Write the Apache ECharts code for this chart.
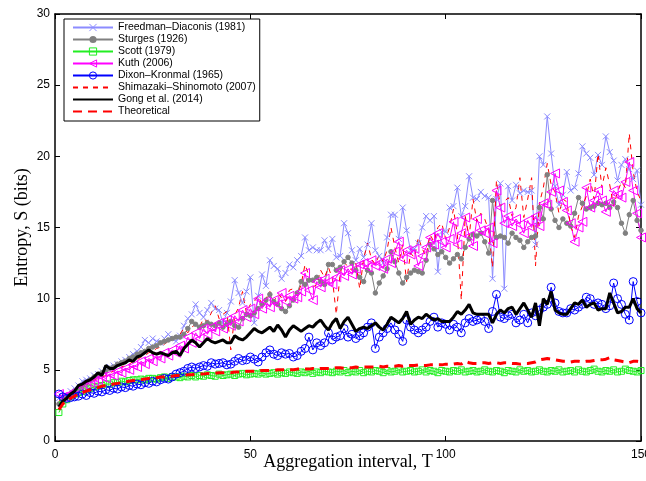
<!DOCTYPE html>
<html>
<head>
<meta charset="utf-8">
<script src="https://cdn.jsdelivr.net/npm/echarts@6/dist/echarts.min.js"></script>
<style>
  html, body { margin: 0; padding: 0; background: #fff; }
  #chart { width: 646px; height: 481px; }
</style>
</head>
<body>
<div id="chart"></div>
<script>
// Aggregation intervals T = 1..150
const T = Array.from({ length: 150 }, (_, i) => i + 1);

const xTicks = [0, 50, 100, 150];
const yTicks = [0, 5, 10, 15, 20, 25, 30];

// Entropy estimates (bits) per aggregation interval, for each binning rule
const freedmanDiaconis = [
  3.0, 3.1, 3.2, 3.5, 3.7, 3.9, 4.2, 4.3, 4.4, 4.6,
  4.7, 4.9, 5.0, 5.2, 5.3, 5.4, 5.6, 5.7, 5.9, 6.1,
  6.3, 6.6, 7.1, 6.9, 7.2, 7.0, 6.9, 7.2, 7.5, 7.2,
  7.0, 7.4, 8.1, 8.6, 8.9, 9.6, 9.0, 8.7, 9.2, 9.7,
  9.3, 9.2, 8.3, 9.0, 9.8, 11.3, 10.4, 9.7, 10.5, 11.5,
  8.3, 10.2, 11.7, 10.9, 12.7, 12.3, 12.1, 11.4, 11.8, 12.4,
  12.2, 12.7, 13.0, 14.3, 13.4, 13.6, 13.4, 13.4, 14.1, 13.5,
  14.2, 12.9, 13.0, 15.3, 14.6, 13.4, 12.7, 13.5, 12.9, 13.8,
  15.3, 13.4, 13.0, 12.5, 14.3, 15.9, 15.9, 14.2, 16.4, 14.8,
  13.4, 13.5, 13.9, 15.0, 15.8, 15.5, 15.8, 11.9, 14.7, 14.7,
  16.4, 16.5, 17.8, 15.8, 16.5, 18.6, 17.1, 17.0, 17.5, 17.2,
  17.1, 11.4, 17.0, 18.1, 10.7, 17.9, 16.9, 18.0, 17.4, 17.6,
  17.5, 17.6, 13.8, 20.0, 19.4, 22.8, 20.2, 17.9, 16.6, 17.3,
  18.9, 17.6, 17.8, 18.8, 20.7, 20.2, 19.9, 18.7, 20.1, 19.4,
  21.4, 20.3, 19.7, 18.3, 19.4, 19.8, 19.1, 18.4, 19.0, 16.6
];

const sturges = [
  2.6, 2.9, 3.1, 3.3, 3.5, 3.7, 3.9, 4.1, 4.3, 4.5,
  4.6, 4.8, 4.9, 5.1, 5.2, 5.4, 5.5, 5.6, 5.8, 5.9,
  6.1, 6.2, 6.3, 6.5, 6.6, 6.7, 6.9, 7.0, 7.1, 7.2,
  7.3, 7.3, 7.5, 7.9, 8.4, 8.2, 8.0, 8.1, 8.3, 8.2,
  8.1, 8.3, 8.0, 8.2, 8.4, 8.1, 8.0, 8.6, 8.9, 8.8,
  9.0, 9.3, 9.6, 9.9, 10.3, 9.8, 9.6, 9.3, 9.1, 9.5,
  9.9, 10.4, 11.2, 11.0, 11.3, 11.3, 11.5, 11.2, 11.0, 12.4,
  12.4, 12.0, 12.2, 12.6, 12.9, 12.5, 12.0, 11.5, 11.2, 12.0,
  11.8, 10.4, 11.1, 11.6, 12.1, 13.3, 12.6, 11.8, 11.1, 11.5,
  11.8, 12.0, 11.9, 11.8, 12.7, 13.8, 13.5, 13.1, 13.3, 12.9,
  12.5, 12.8, 13.1, 12.8, 13.6, 14.2, 14.5, 14.4, 14.6, 14.0,
  13.2, 16.9, 14.3, 14.4, 14.3, 13.9, 14.6, 14.3, 14.1, 13.6,
  14.0, 14.3, 14.4, 16.4, 15.6, 18.7, 16.3, 15.5, 15.0, 15.6,
  15.3, 15.1, 16.0, 17.1, 16.7, 16.3, 16.4, 16.5, 16.7, 16.6,
  16.7, 16.4, 16.8, 16.4, 15.3, 14.6, 15.9, 16.9, 15.5, 14.8
];

const scott = [
  2.0, 2.6, 2.9, 3.1, 3.3, 3.4, 3.5, 3.6, 3.7, 3.8,
  3.85, 3.9, 4.0, 4.0, 4.1, 4.1, 4.2, 4.15, 4.25, 4.3,
  4.3, 4.35, 4.3, 4.4, 4.4, 4.35, 4.45, 4.5, 4.4, 4.5,
  4.5, 4.45, 4.55, 4.5, 4.6, 4.5, 4.6, 4.55, 4.65, 4.6,
  4.55, 4.7, 4.6, 4.65, 4.7, 4.6, 4.7, 4.75, 4.65, 4.7,
  4.75, 4.7, 4.8, 4.7, 4.75, 4.8, 4.7, 4.8, 4.75, 4.85,
  4.8, 4.75, 4.85, 4.8, 4.9, 4.75, 4.85, 4.8, 4.9, 4.85,
  4.8, 4.9, 4.85, 4.95, 4.8, 4.9, 4.85, 4.95, 4.8, 4.9,
  4.85, 4.95, 4.9, 4.8, 4.95, 4.85, 4.9, 5.0, 4.85, 4.9,
  4.95, 4.85, 4.9, 5.0, 4.85, 4.95, 4.9, 4.8, 4.95, 4.9,
  4.85, 4.95, 4.9, 5.0, 4.85, 4.9, 4.95, 4.85, 4.9, 5.0,
  4.9, 4.85, 4.95, 4.9, 4.8, 4.95, 4.9, 4.85, 5.0, 4.9,
  4.95, 4.85, 4.9, 5.0, 4.9, 4.85, 4.95, 4.9, 5.0, 4.85,
  4.9, 4.95, 4.85, 5.0, 4.9, 4.85, 4.95, 5.05, 4.9, 4.85,
  4.95, 4.9, 5.0, 4.85, 4.9, 5.05, 4.95, 4.9, 4.85, 4.95
];

const kuth = [
  3.3, 3.1, 3.2, 3.3, 3.5, 3.6, 3.8, 3.9, 4.1, 4.2,
  4.3, 4.5, 4.4, 4.7, 4.6, 4.9, 4.8, 5.1, 5.0, 5.3,
  5.2, 5.6, 5.4, 5.8, 5.6, 6.0, 5.8, 6.2, 6.0, 6.4,
  6.2, 6.7, 6.5, 7.3, 6.9, 7.6, 7.2, 7.9, 7.5, 8.0,
  7.7, 8.3, 7.9, 8.5, 8.1, 8.8, 8.4, 9.2, 8.7, 9.3,
  8.9, 10.0, 9.3, 9.8, 9.4, 9.9, 9.6, 10.4, 9.8, 10.2,
  10.0, 10.1, 10.5, 11.8, 10.6, 9.9, 11.2, 10.8, 11.4, 11.2,
  11.0, 11.5, 12.0, 11.6, 12.1, 11.7, 12.1, 12.4, 12.5, 12.2,
  12.7, 12.3, 12.5, 12.1, 12.8, 12.5, 13.3, 14.0, 12.8, 13.4,
  13.1, 13.5, 12.3, 13.0, 13.6, 14.3, 13.8, 14.6, 14.0, 13.6,
  14.2, 15.4, 13.8, 14.6, 15.7, 14.4, 13.7, 15.6, 14.8, 14.6,
  15.0, 13.9, 17.6, 16.4, 15.3, 15.8, 15.1, 15.6, 15.2, 14.6,
  15.5, 15.0, 15.8, 15.1, 16.7, 16.6, 17.5, 18.8, 17.6, 16.8,
  16.2, 15.3, 14.0, 15.0, 15.4, 17.8, 16.4, 16.9, 17.6, 16.9,
  16.1, 16.8, 17.6, 17.3, 17.1, 18.2, 19.6, 17.6, 16.0, 14.3
];

const dixonKronmal = [
  3.3, 3.1, 3.0, 3.05, 3.1, 3.15, 3.3, 3.2, 3.4, 3.35,
  3.5, 3.45, 3.6, 3.55, 3.7, 3.65, 3.8, 3.75, 3.9, 3.85,
  4.0, 3.95, 4.1, 4.05, 4.2, 4.15, 4.3, 4.4, 4.35, 4.5,
  4.7, 4.8, 4.9, 5.1, 5.2, 5.1, 5.2, 5.3, 5.25, 5.5,
  5.4, 5.45, 5.5, 5.35, 5.4, 5.6, 5.8, 5.65, 5.7, 5.9,
  5.75, 5.55, 5.9, 6.2, 6.4, 6.1, 6.0, 6.2, 6.1, 6.15,
  5.9, 6.0, 6.3, 6.5, 7.3, 6.4, 6.9, 6.7, 6.9, 7.6,
  7.1, 7.3, 7.4, 7.9, 7.3, 7.5, 7.2, 7.4, 7.6, 8.0,
  8.3, 6.5, 7.3, 7.6, 7.9, 8.3, 7.8, 7.5, 7.0, 8.5,
  8.0, 7.8, 7.6, 7.8, 8.0, 8.4, 8.7, 8.0, 8.3, 8.2,
  7.8, 8.2, 8.0, 7.6, 8.3, 8.6, 8.4, 8.5, 8.6, 8.4,
  7.9, 9.1, 10.3, 8.7, 8.6, 8.8, 8.9, 8.3, 8.5, 8.9,
  8.3, 9.0, 8.8, 9.2, 9.4, 9.6, 10.8, 9.7, 9.1, 9.0,
  9.0, 9.3, 9.2, 9.4, 9.6, 10.1, 10.0, 9.6, 9.7, 9.6,
  9.3, 9.5, 11.1, 10.0, 9.6, 8.9, 8.5, 11.2, 9.8, 9.0
];

const shimazakiShinomoto = [
  2.8, 3.0, 3.2, 3.4, 3.5, 3.7, 3.8, 4.0, 4.1, 4.3,
  4.4, 4.5, 4.6, 4.8, 4.9, 5.0, 5.2, 5.3, 5.4, 5.6,
  5.7, 5.9, 6.0, 6.2, 6.3, 6.5, 6.6, 6.8, 7.0, 7.2,
  7.3, 7.5, 7.9, 7.6, 8.0, 8.2, 8.0, 8.6, 8.4, 9.0,
  9.5, 8.6, 8.9, 9.1, 6.4, 8.8, 9.4, 10.5, 9.0, 9.6,
  9.8, 10.2, 9.6, 10.0, 10.5, 9.8, 10.3, 10.1, 9.8, 10.6,
  10.7, 10.2, 11.0, 12.4, 11.6, 10.8, 11.0, 12.0, 11.5, 12.2,
  11.4, 8.9, 11.8, 12.6, 12.2, 12.0, 12.5, 10.7, 12.8, 13.9,
  12.8, 12.4, 13.1, 12.6, 13.4, 15.0, 13.6, 12.5, 13.8, 11.2,
  13.2, 12.9, 14.3, 13.5, 13.0, 14.5, 14.0, 15.0, 15.3, 14.2,
  15.0, 16.3, 14.5, 9.9, 15.8, 14.3, 17.0, 15.4, 16.0, 15.6,
  14.8, 12.2, 18.3, 16.5, 16.8, 17.1, 15.8, 16.4, 18.5, 15.7,
  17.0, 18.5, 12.3, 16.7, 17.8, 19.5, 18.0, 17.5, 16.0, 17.0,
  16.8, 15.1, 14.3, 15.8, 16.5, 17.2, 18.4, 17.0, 20.2, 17.8,
  19.2, 18.0, 16.5, 17.5, 18.2, 17.8, 21.6, 18.9, 17.5, 16.9
];

const gong = [
  2.4, 2.8, 3.0, 3.3, 3.5, 3.9, 4.0, 4.2, 4.3, 4.5,
  4.8, 4.6, 5.3, 5.1, 5.1, 5.3, 5.4, 5.5, 5.7, 5.6,
  5.9, 6.0, 6.2, 6.4, 6.2, 6.1, 6.2, 6.1, 6.0, 6.2,
  6.3, 6.0, 6.5, 6.8, 7.1, 6.9, 6.6, 6.9, 7.2, 7.0,
  6.9, 7.0, 7.1, 6.9, 6.9, 7.4, 7.2, 7.1, 7.3, 7.6,
  7.9, 7.7, 7.6, 7.8, 8.0, 7.7, 8.15, 7.8, 7.3, 7.8,
  8.1, 7.9, 7.7, 7.9, 8.1, 8.0, 8.3, 8.5, 8.1, 7.8,
  8.3, 8.6, 7.9, 8.4, 8.7, 8.2, 7.7, 7.9, 8.0, 7.9,
  8.1, 8.3, 8.0, 7.8, 8.2, 8.7, 8.5, 8.3, 8.6, 9.1,
  8.2, 8.5, 8.7, 8.6, 8.9, 8.7, 8.5, 8.6, 8.4, 8.4,
  8.4, 8.7, 9.1, 8.9, 9.2, 9.6, 9.0, 8.9, 8.9, 8.9,
  8.9, 8.3, 8.9, 9.2, 9.0, 9.3, 9.4, 8.9, 9.3, 9.7,
  9.2, 8.7, 9.7, 8.1, 10.0, 9.6, 10.5, 9.2, 9.0, 8.9,
  8.9, 9.3, 9.7, 9.6, 9.9, 9.4, 9.6, 9.7, 9.2, 9.3,
  9.3, 10.4, 9.7, 9.0, 9.1, 9.4, 9.4, 10.0, 9.3, 9.0
];

const theoretical = [
  2.2, 2.6, 2.85, 3.0, 3.15, 3.3, 3.4, 3.5, 3.6, 3.7,
  3.75, 3.85, 3.9, 3.95, 4.0, 4.05, 4.1, 4.15, 4.2, 4.25,
  4.3, 4.3, 4.35, 4.4, 4.4, 4.45, 4.5, 4.5, 4.55, 4.55,
  4.6, 4.6, 4.6, 4.65, 4.65, 4.7, 4.7, 4.7, 4.75, 4.75,
  4.75, 4.8, 4.8, 4.8, 4.8, 4.85, 4.85, 4.85, 4.9, 4.9,
  4.9, 4.9, 4.95, 4.95, 4.95, 4.95, 5.0, 5.0, 5.0, 5.0,
  5.0, 5.05, 5.05, 5.05, 5.05, 5.1, 5.05, 5.1, 5.1, 5.1,
  5.1, 5.15, 5.15, 5.1, 5.15, 5.15, 5.2, 5.15, 5.2, 5.2,
  5.2, 5.2, 5.25, 5.2, 5.25, 5.25, 5.25, 5.3, 5.25, 5.3,
  5.3, 5.3, 5.35, 5.3, 5.3, 5.35, 5.35, 5.35, 5.35, 5.4,
  5.4, 5.4, 5.45, 5.4, 5.6, 5.5, 5.45, 5.45, 5.5, 5.5,
  5.45, 5.5, 5.5, 5.45, 5.5, 5.5, 5.45, 5.45, 5.4, 5.45,
  5.45, 5.5, 5.55, 5.7, 5.75, 5.8, 5.75, 5.7, 5.65, 5.6,
  5.6, 5.55, 5.6, 5.6, 5.55, 5.6, 5.6, 5.65, 5.7, 5.7,
  5.75, 5.85, 5.7, 5.65, 5.6, 5.55, 5.5, 5.6, 5.6, 5.55
];

const pairs = (vals) => T.map((t, i) => [t, vals[i]]);

const SANS = 'Liberation Sans';
const SERIF = 'Liberation Serif';

const crossPath = 'path://M0,0L10,10M10,0L0,10';
const CLEAR = 'rgba(255,255,255,0)';

function markerSeries(name, vals, color, symbol, size, hollow, extra) {
  return Object.assign({
    name,
    type: 'line',
    data: pairs(vals),
    symbol,
    symbolSize: size,
    showAllSymbol: true,
    lineStyle: { color, width: 1 },
    itemStyle: hollow
      ? { color: CLEAR, borderColor: color, borderWidth: 1 }
      : { color, borderColor: color, borderWidth: 1 },
    emphasis: { disabled: true },
    z: 2
  }, extra || {});
}

function plainSeries(name, vals, color, width, dash, z) {
  return {
    name,
    type: 'line',
    data: pairs(vals),
    symbol: 'none',
    lineStyle: { color, width, type: dash || 'solid' },
    itemStyle: { color },
    emphasis: { disabled: true },
    z
  };
}

const series = [
  markerSeries('Freedman–Diaconis (1981)', freedmanDiaconis, '#8c8cff', crossPath, 6, false),
  markerSeries('Sturges (1926)', sturges, '#808080', 'circle', 4.5, false),
  markerSeries('Scott (1979)', scott, '#22ee22', 'rect', 6, true),
  markerSeries('Kuth (2006)', kuth, '#ff00ff', 'triangle', 9, true, { symbolRotate: 90 }),
  markerSeries('Dixon–Kronmal (1965)', dixonKronmal, '#0000ff', 'circle', 8, true),
  plainSeries('Shimazaki–Shinomoto (2007)', shimazakiShinomoto, '#ff0000', 1, [5, 5], 2),
  plainSeries('Gong et al. (2014)', gong, '#000000', 3, null, 3),
  plainSeries('Theoretical', theoretical, '#ff0000', 3, [9, 6], 3)
];

// Legend entries: marker outline per rule, no marker for plain lines
const legendItems = [
  { name: series[0].name, itemStyle: { color: '#8c8cff', borderColor: '#8c8cff', borderWidth: 1 } },
  { name: series[1].name, itemStyle: { color: '#808080', borderColor: '#808080', borderWidth: 0 } },
  { name: series[2].name, itemStyle: { color: CLEAR, borderColor: '#22ee22', borderWidth: 1 } },
  { name: series[3].name, itemStyle: { color: CLEAR, borderColor: '#ff00ff', borderWidth: 1 } },
  { name: series[4].name, itemStyle: { color: CLEAR, borderColor: '#0000ff', borderWidth: 1 } },
  { name: series[5].name, itemStyle: { opacity: 0 } },
  { name: series[6].name, itemStyle: { opacity: 0 } },
  { name: series[7].name, itemStyle: { opacity: 0 } }
];

const axisCommon = {
  axisLine: { show: true, onZero: false, lineStyle: { color: '#000', width: 1.5 } },
  axisTick: { show: true, inside: true, length: 5, lineStyle: { color: '#000', width: 1 } },
  splitLine: { show: false }
};

const chart = echarts.init(document.getElementById('chart'), null, { renderer: 'canvas' });
chart.setOption({
  animation: false,
  backgroundColor: '#ffffff',
  grid: { left: 55, right: 5, top: 14, bottom: 40, containLabel: false, outerBoundsMode: 'none' },
  legend: {
    orient: 'vertical',
    left: 64,
    top: 19,
    padding: [3, 4, 4, 8],
    itemWidth: 40,
    itemHeight: 9,
    itemGap: 1,
    backgroundColor: '#ffffff',
    borderColor: '#000000',
    borderWidth: 1,
    borderRadius: 0,
    selectedMode: false,
    textStyle: { fontFamily: SANS, fontSize: 10.5, color: '#000', lineHeight: 9 },
    data: legendItems
  },
  xAxis: [
    Object.assign({
      type: 'value',
      min: xTicks[0],
      max: xTicks[xTicks.length - 1],
      interval: xTicks[1] - xTicks[0],
      position: 'bottom',
      name: 'Aggregation interval, T',
      nameLocation: 'middle',
      nameGap: 12,
      nameMoveOverlap: false,
      nameTextStyle: { fontFamily: SERIF, fontSize: 18, color: '#000', verticalAlign: 'top' },
      axisLabel: { fontFamily: SANS, fontSize: 12, color: '#000', margin: 8 }
    }, axisCommon),
    Object.assign({
      type: 'value',
      min: xTicks[0],
      max: xTicks[xTicks.length - 1],
      interval: xTicks[1] - xTicks[0],
      position: 'top',
      axisLabel: { show: false }
    }, axisCommon)
  ],
  yAxis: [
    Object.assign({
      type: 'value',
      min: yTicks[0],
      max: yTicks[yTicks.length - 1],
      interval: yTicks[1] - yTicks[0],
      position: 'left',
      name: 'Entropy, S (bits)',
      nameLocation: 'middle',
      nameGap: 24,
      nameMoveOverlap: false,
      nameTextStyle: { fontFamily: SERIF, fontSize: 18, color: '#000' },
      axisLabel: { fontFamily: SANS, fontSize: 12, color: '#000', margin: 5 }
    }, axisCommon),
    Object.assign({
      type: 'value',
      min: yTicks[0],
      max: yTicks[yTicks.length - 1],
      interval: yTicks[1] - yTicks[0],
      position: 'right',
      axisLabel: { show: false }
    }, axisCommon)
  ],
  series
});
</script>
</body>
</html>
